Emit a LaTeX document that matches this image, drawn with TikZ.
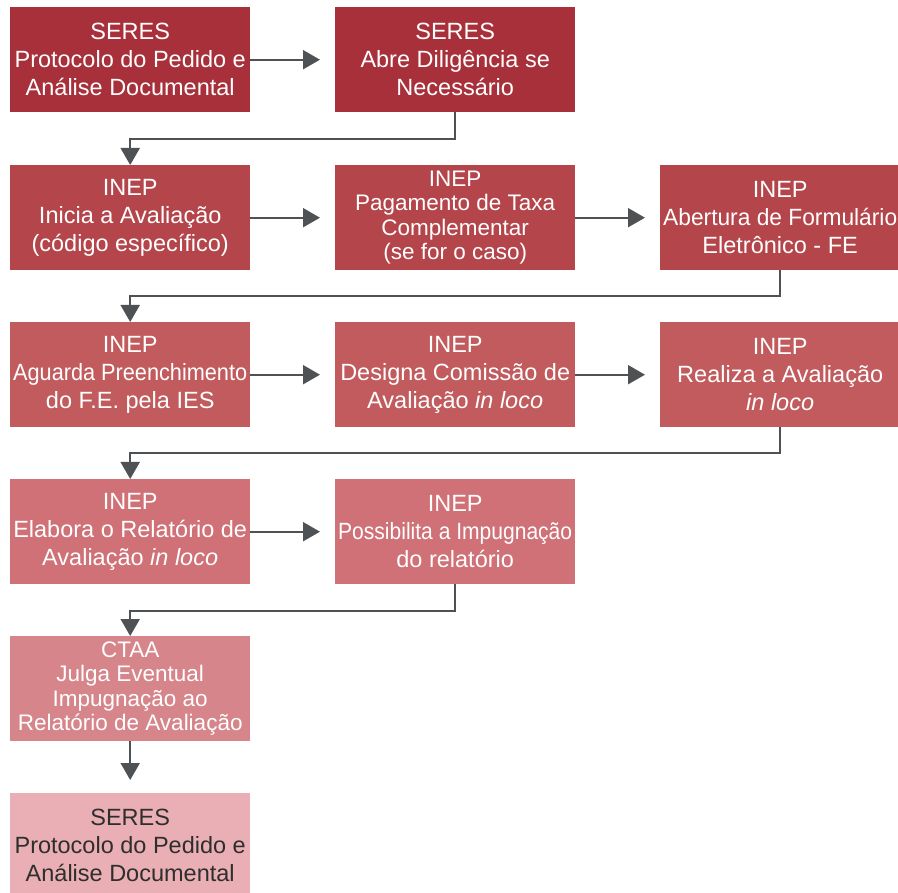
\documentclass[tikz,border=0pt]{standalone}
\usepackage{fontspec}
\setmainfont{Liberation Sans}
\usetikzlibrary{arrows.meta}
\definecolor{cA}{HTML}{A8303A}
\definecolor{cB}{HTML}{B4454B}
\definecolor{cC}{HTML}{C15B5D}
\definecolor{cD}{HTML}{CF7176}
\definecolor{cE}{HTML}{D6858A}
\definecolor{cF}{HTML}{EAAFB4}
\definecolor{ln}{HTML}{4F5255}
\definecolor{dk}{HTML}{2E2E2E}
\newcommand\fitw[1]{\setbox0\hbox{#1}\ifdim\wd0>234pt\resizebox{234pt}{\height}{#1}\else\box0\fi}
\tikzset{
  box/.style={rectangle, minimum width=240pt, minimum height=105pt, inner sep=0pt,
    align=center, text=white, anchor=north west, font=\fontsize{23.5}{28}\selectfont},
  four/.style={font=\fontsize{22.5}{24.5}\selectfont},
  arr/.style={draw=ln, line width=2pt, -{Triangle[length=17pt,width=19pt]}},
  harr/.style={arr, shorten >=15pt},
}
\begin{document}
\begin{tikzpicture}[x=1pt,y=-1pt]
\useasboundingbox (0,0) rectangle (898,893);
\clip (0,0) rectangle (898,893);
% row 1
\node[box, fill=cA] (b11) at (10,7) {SERES\\\fitw{Protocolo do Pedido e}\\\fitw{Análise Documental}};
\node[box, fill=cA] (b12) at (335,7) {SERES\\\fitw{Abre Diligência se}\\Necessário};
% row 2
\node[box, fill=cB] (b21) at (10,165) {INEP\\\fitw{Inicia a Avaliação}\\\fitw{(código específico)}};
\node[box, fill=cB, four] (b22) at (335,165) {INEP\\\fitw{Pagamento de Taxa}\\Complementar\\(se for o caso)};
\node[box, fill=cB] (b23) at (660,165) {INEP\\\fitw{Abertura de Formulário}\\Eletrônico - FE};
% row 3
\node[box, fill=cC] (b31) at (10,322) {INEP\\\fitw{Aguarda Preenchimento}\\do F.E. pela IES};
\node[box, fill=cC] (b32) at (335,322) {INEP\\\fitw{Designa Comissão de}\\Avaliação \textit{in loco}};
\node[box, fill=cC] (b33) at (660,322) {INEP\\\fitw{Realiza a Avaliação}\\\textit{in loco}};
% row 4
\node[box, fill=cD] (b41) at (10,479) {INEP\\\fitw{Elabora o Relatório de}\\\fitw{Avaliação \textit{in loco}}};
\node[box, fill=cD] (b42) at (335,479) {INEP\\\fitw{Possibilita a Impugnação}\\do relatório};
% row 5
\node[box, fill=cE, four] (b51) at (10,636) {CTAA\\Julga Eventual\\Impugnação ao\\\fitw{Relatório de Avaliação}};
% row 6
\node[box, fill=cF, text=dk] (b61) at (10,793) {SERES\\\fitw{Protocolo do Pedido e}\\\fitw{Análise Documental}};
% connectors
\draw[harr] (b11.east) -- (b12.west);
\draw[arr] (b12.south) -- ++(0,27) -| (b21.north);
\draw[harr] (b21.east) -- (b22.west);
\draw[harr] (b22.east) -- (b23.west);
\draw[arr] (b23.south) -- ++(0,26) -| (b31.north);
\draw[harr] (b31.east) -- (b32.west);
\draw[harr] (b32.east) -- (b33.west);
\draw[arr] (b33.south) -- ++(0,26) -| (b41.north);
\draw[harr] (b41.east) -- (b42.west);
\draw[arr] (b42.south) -- ++(0,27) -| (b51.north);
\draw[arr, shorten >=13pt] (b51.south) -- (b61.north);
\end{tikzpicture}
\end{document}
